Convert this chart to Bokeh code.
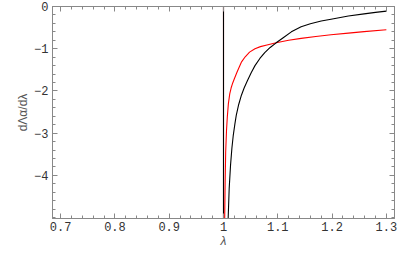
from bokeh.plotting import figure
from bokeh.models import Range1d, LinearAxis, FixedTicker
from bokeh.embed import file_html
from bokeh.resources import INLINE

# Data
red_lam = [0.685, 1.0, 1.0, 1.0022, 1.003, 1.004, 1.0055, 1.007, 1.009, 1.0115, 1.014, 1.017,
           1.02, 1.025, 1.0333, 1.04, 1.048, 1.058, 1.068, 1.08, 1.097, 1.12, 1.143, 1.17,
           1.198, 1.23, 1.259, 1.3]
red_val = [0.0, 0.0, -5.1, -5.05, -4.2, -3.45, -2.95, -2.62, -2.3, -2.07, -1.93, -1.81,
           -1.71, -1.55, -1.31, -1.19, -1.08, -1.00, -0.95, -0.91, -0.86, -0.80, -0.755, -0.71,
           -0.67, -0.63, -0.595, -0.55]
black_lam = [0.685, 1.0, 1.0, 1.0085, 1.0105, 1.013, 1.0155, 1.018, 1.021, 1.0235, 1.028,
             1.033, 1.038, 1.044, 1.051, 1.058, 1.067, 1.076, 1.086, 1.097, 1.11, 1.125,
             1.143, 1.16, 1.18, 1.198, 1.23, 1.259, 1.28, 1.3]
black_val = [0.0, 0.0, -5.1, -5.05, -4.3, -3.75, -3.35, -3.05, -2.78, -2.58, -2.32,
             -2.1, -1.93, -1.76, -1.57, -1.40, -1.23, -1.09, -0.97, -0.86, -0.74, -0.60,
             -0.48, -0.41, -0.345, -0.30, -0.225, -0.175, -0.14, -0.11]

x_ticks = [0.7, 0.8, 0.9, 1.0, 1.1, 1.2, 1.3]
x_tick_labels = ["0.7", "0.8", "0.9", "1", "1.1", "1.2", "1.3"]
y_ticks = [0, -1, -2, -3, -4]
y_tick_labels = ["0", "\u22121", "\u22122", "\u22123", "\u22124"]

x_minor = [round(0.68 + 0.02 * i, 2) for i in range(33)]
y_minor = [round(-5.0 + 0.2 * i, 1) for i in range(26)]

p = figure(width=409, height=253, output_backend="svg", toolbar_location=None,
           x_range=Range1d(0.685, 1.315), y_range=Range1d(-5.02, 0.0),
           min_border_left=52, min_border_right=15, min_border_top=6, min_border_bottom=35,
           x_axis_label="\u03bb", y_axis_label="d\u039b\u03b1/d\u03bb")

p.grid.visible = False
p.background_fill_color = "white"
p.outline_line_color = "#888888"
p.outline_line_width = 1

p.line(red_lam, red_val, line_color="#ff0000", line_width=1.1)
p.line(black_lam, black_val, line_color="#000000", line_width=1.1)

axis_color = "#888888"
font = "Liberation Mono"


def style_axis(ax, ticks, labels, minor, show_labels):
    ax.ticker = FixedTicker(ticks=ticks, minor_ticks=minor)
    ax.axis_line_color = axis_color
    ax.major_tick_line_color = axis_color
    ax.minor_tick_line_color = axis_color
    ax.major_tick_in = 5
    ax.major_tick_out = 0
    ax.minor_tick_in = 3
    ax.minor_tick_out = 0
    if show_labels:
        ax.major_label_overrides = {t: l for t, l in zip(ticks, labels)}
        ax.major_label_text_font = font
        ax.major_label_text_font_size = "12px"
        ax.major_label_text_color = "#333333"
        ax.major_label_standoff = 4
    else:
        ax.major_label_overrides = {t: "" for t in ticks}
        ax.major_label_text_font_size = "1px"
        ax.major_label_standoff = 0


style_axis(p.xaxis[0], x_ticks, x_tick_labels, x_minor, True)
style_axis(p.yaxis[0], y_ticks, y_tick_labels, y_minor, True)
p.xaxis[0].major_label_standoff = 3
p.xaxis[0].axis_label_text_font = "Liberation Sans"
p.xaxis[0].axis_label_text_font_style = "italic"
p.xaxis[0].axis_label_text_font_size = "12px"
p.xaxis[0].axis_label_text_color = "#555555"
p.xaxis[0].axis_label_standoff = 0
p.yaxis[0].axis_label_text_font = "Liberation Sans"
p.yaxis[0].axis_label_text_font_style = "normal"
p.yaxis[0].axis_label_text_font_size = "12px"
p.yaxis[0].axis_label_text_color = "#555555"
p.yaxis[0].axis_label_standoff = 1

top_ax = LinearAxis()
right_ax = LinearAxis()
style_axis(top_ax, x_ticks, x_tick_labels, x_minor, False)
style_axis(right_ax, y_ticks, y_tick_labels, y_minor, False)
p.add_layout(top_ax, "above")
p.add_layout(right_ax, "right")

open("out.html", "w").write(file_html(p, INLINE))
